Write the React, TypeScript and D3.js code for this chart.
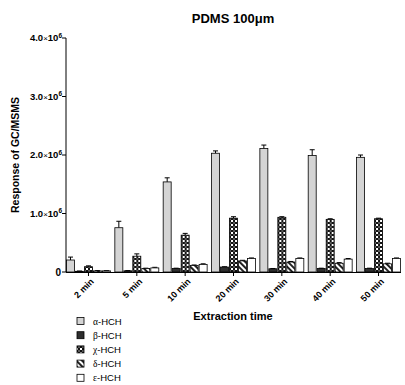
import * as d3 from "d3";
import React from "react";

const times = ["2 min", "5 min", "10 min", "20 min", "30 min", "40 min", "50 min"];
const series = ["α-HCH", "β-HCH", "χ-HCH", "δ-HCH", "ε-HCH"];

// values in units of 10^6
const alpha = [0.205, 0.757, 1.54, 2.03, 2.11, 1.99, 1.96];
const beta = [0.012, 0.02, 0.06, 0.085, 0.055, 0.06, 0.06];
const chi = [0.09, 0.27, 0.63, 0.92, 0.935, 0.9, 0.91];
const delta = [0.02, 0.06, 0.11, 0.19, 0.17, 0.15, 0.14];
const eps = [0.02, 0.07, 0.13, 0.23, 0.23, 0.22, 0.23];

const alphaErr = [0.05, 0.11, 0.07, 0.04, 0.06, 0.1, 0.04];
const betaErr = [0.005, 0.005, 0.005, 0.005, 0.005, 0.005, 0.005];
const chiErr = [0.015, 0.04, 0.03, 0.025, 0.01, 0.01, 0.01];
const deltaErr = [0.005, 0.005, 0.01, 0.01, 0.01, 0.01, 0.01];
const epsErr = [0.005, 0.01, 0.01, 0.01, 0.01, 0.01, 0.01];

const yTicks = [0, 1, 2, 3, 4];

const values = [alpha, beta, chi, delta, eps];
const errors = [alphaErr, betaErr, chiErr, deltaErr, epsErr];
const fills = ["#d4d4d4", "#2e2e2e", "url(#chk)", "url(#diag)", "#ffffff"];

const font = "'Liberation Sans', Arial, sans-serif";

const App: React.FC = () => {
  const width = 405;
  const height = 385;

  const x0 = d3.scaleBand<string>().domain(times).range([66, 401]).paddingInner(0.07).paddingOuter(0);
  const x1 = d3.scaleBand<string>().domain(series).range([0, x0.bandwidth()]);
  const y = d3.scaleLinear().domain([0, 4]).range([272, 38]);

  return (
    <svg width={width} height={height} style={{ position: "absolute", left: 0, top: 0 }}>
      <defs>
        <pattern id="chk" width="4" height="4" patternUnits="userSpaceOnUse">
          <rect width="4" height="4" fill="#111" />
          <rect x="0" y="0" width="2" height="2" fill="#fff" />
          <rect x="2" y="2" width="2" height="2" fill="#fff" opacity="0.3" />
        </pattern>
        <pattern id="diag" width="4" height="4" patternUnits="userSpaceOnUse" patternTransform="rotate(45)">
          <rect width="4" height="4" fill="#fff" />
          <rect x="0" y="0" width="4" height="2" fill="#222" />
        </pattern>
      </defs>
      <rect width={width} height={height} fill="#fff" />

      <text x={233} y={23} textAnchor="middle" fontFamily={font} fontWeight="bold" fontSize={13}>
        PDMS 100μm
      </text>

      {/* bars */}
      {times.map((t, i) => (
        <g key={t} transform={`translate(${x0(t)},0)`}>
          {series.map((s, k) => {
            const v = values[k][i];
            const e = errors[k][i];
            const bx = x1(s)!;
            const bw = x1.bandwidth();
            const cx = bx + bw / 2;
            return (
              <g key={s}>
                <line x1={cx} x2={cx} y1={y(v)} y2={y(v + e)} stroke="#000" strokeWidth={1} />
                <line x1={cx - 2.5} x2={cx + 2.5} y1={y(v + e)} y2={y(v + e)} stroke="#000" strokeWidth={1} />
                <rect x={bx + 0.5} y={y(v)} width={bw - 1} height={y(0) - y(v)} fill={fills[k]} stroke="#000" strokeWidth={0.8} />
              </g>
            );
          })}
        </g>
      ))}

      {/* y axis */}
      <line x1={66} x2={66} y1={y(4)} y2={y(0)} stroke="#000" strokeWidth={1} />
      {yTicks.map((t) => (
        <g key={t}>
          <line x1={62} x2={66} y1={y(t)} y2={y(t)} stroke="#000" />
          {t === 0 ? (
            <text x={61} y={y(t) + 3.5} textAnchor="end" fontFamily={font} fontWeight="bold" fontSize={10}>
              0
            </text>
          ) : (
            <text x={62} y={y(t) + 3.2} textAnchor="end" fontFamily={font} fontWeight="bold" fontSize={9.5}>
              {t.toFixed(1)}
              <tspan fontWeight="normal" fontSize={8}>×</tspan>
              10
              <tspan fontSize={6.5} dy={-3.5}>6</tspan>
            </text>
          )}
        </g>
      ))}

      {/* x axis */}
      <line x1={66} x2={401} y1={272.5} y2={272.5} stroke="#000" strokeWidth={1} />
      {times.map((t) => {
        const cx = x0(t)! + x0.bandwidth() / 2;
        return (
          <g key={t}>
            <line x1={cx} x2={cx} y1={272} y2={276} stroke="#000" />
            <text
              transform={`translate(${cx + 6},${282}) rotate(-45)`}
              textAnchor="end"
              fontFamily={font}
              fontWeight="bold"
              fontSize={9}
            >
              {t}
            </text>
          </g>
        );
      })}

      <text x={233} y={320} textAnchor="middle" fontFamily={font} fontWeight="bold" fontSize={11}>
        Extraction time
      </text>
      <text
        transform={`translate(19,${155}) rotate(-90)`}
        textAnchor="middle"
        fontFamily={font}
        fontWeight="bold"
        fontSize={10.5}
      >
        Response of GC/MSMS
      </text>

      {/* legend */}
      {series.map((s, k) => {
        const ly = 321 + k * 14.2;
        return (
          <g key={s}>
            <rect x={77} y={ly - 3.5} width={7} height={7} fill={fills[k]} stroke="#000" strokeWidth={0.8} />
            <text x={93} y={ly + 3.5} fontFamily={font} fontSize={9.5}>
              <tspan fontFamily="'Liberation Serif', serif">{s.charAt(0)}</tspan>
              {s.slice(1)}
            </text>
          </g>
        );
      })}
    </svg>
  );
};

export default App;
